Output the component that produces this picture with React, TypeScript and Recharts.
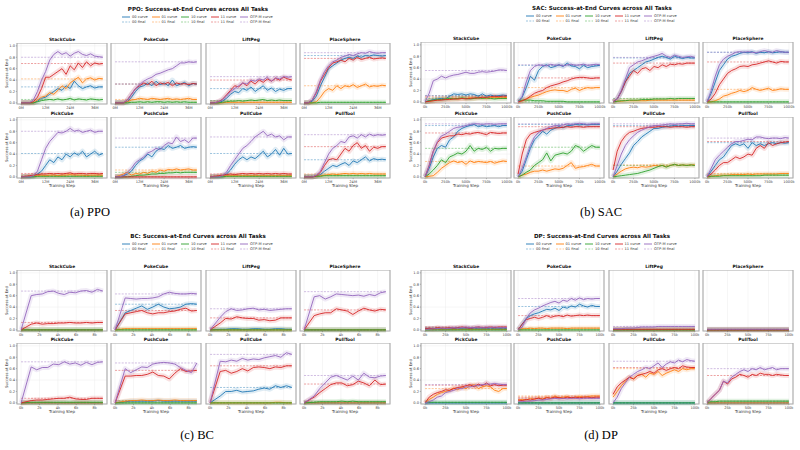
import { CartesianGrid, Line, LineChart, ReferenceArea, ReferenceLine, XAxis, YAxis } from "recharts";

// series order: 00, 01, 10, 11, OTP-M
const SERIES = ["00", "01", "10", "11", "OTP-M"];
const COLORS = ["#1f77b4", "#ff7f0e", "#2ca02c", "#d62728", "#9467bd"];
const TASKS = ["StackCube", "PokeCube", "LiftPeg", "PlaceSphere", "PickCube", "PushCube", "PullCube", "PullTool"];
const Y_TICKS = [0, 0.2, 0.4, 0.6, 0.8, 1.0];

// ---- PPO (steps in M) ----
const PPO_STEPS = [0, 2, 4, 6, 8, 10, 12, 14, 16, 18, 20, 22, 24, 26, 28, 30, 32, 34, 36, 38, 40];
const PPO_TICKS = [0, 12, 24, 36];
const PPO_STACKCUBE = [
  [0, 0, 0, 0, 0.03, 0.08, 0.1, 0.15, 0.2, 0.25, 0.22, 0.3, 0.25, 0.38, 0.3, 0.25, 0.28, 0.3, 0.26, 0.28, 0.28],
  [0, 0, 0, 0, 0.05, 0.1, 0.12, 0.18, 0.15, 0.22, 0.3, 0.25, 0.35, 0.4, 0.45, 0.35, 0.42, 0.44, 0.4, 0.43, 0.42],
  [0, 0, 0, 0, 0.02, 0.04, 0.05, 0.06, 0.05, 0.07, 0.05, 0.06, 0.08, 0.05, 0.07, 0.06, 0.05, 0.07, 0.06, 0.05, 0.06],
  [0, 0, 0, 0.02, 0.1, 0.25, 0.45, 0.45, 0.5, 0.55, 0.6, 0.5, 0.65, 0.58, 0.7, 0.62, 0.72, 0.65, 0.7, 0.68, 0.69],
  [0, 0, 0, 0.05, 0.2, 0.4, 0.55, 0.75, 0.85, 0.9, 0.85, 0.88, 0.82, 0.87, 0.9, 0.85, 0.83, 0.86, 0.82, 0.81, 0.8],
];
const PPO_POKECUBE = [
  [0, 0, 0, 0.02, 0.1, 0.2, 0.28, 0.3, 0.35, 0.3, 0.38, 0.32, 0.35, 0.3, 0.4, 0.3, 0.33, 0.36, 0.3, 0.34, 0.33],
  [0, 0, 0, 0.02, 0.05, 0.06, 0.08, 0.07, 0.06, 0.08, 0.07, 0.06, 0.07, 0.08, 0.06, 0.07, 0.06, 0.07, 0.08, 0.06, 0.06],
  [0, 0, 0, 0, 0.01, 0.01, 0.02, 0.01, 0.02, 0.01, 0.02, 0.02, 0.01, 0.02, 0.01, 0.02, 0.01, 0.02, 0.01, 0.01, 0.01],
  [0, 0, 0, 0.05, 0.15, 0.25, 0.3, 0.35, 0.32, 0.38, 0.3, 0.35, 0.33, 0.36, 0.3, 0.35, 0.33, 0.34, 0.32, 0.34, 0.33],
  [0, 0, 0, 0.05, 0.15, 0.25, 0.32, 0.38, 0.42, 0.45, 0.5, 0.52, 0.55, 0.58, 0.6, 0.65, 0.7, 0.7, 0.72, 0.71, 0.72],
];
const PPO_LIFTPEG = [
  [0, 0, 0, 0.03, 0.08, 0.15, 0.2, 0.18, 0.25, 0.22, 0.28, 0.2, 0.25, 0.3, 0.22, 0.26, 0.2, 0.24, 0.22, 0.25, 0.25],
  [0, 0, 0, 0, 0.01, 0.01, 0.01, 0.01, 0.01, 0.01, 0.01, 0.01, 0.01, 0.01, 0.01, 0.01, 0.01, 0.01, 0.01, 0.01, 0.01],
  [0, 0, 0, 0.01, 0.02, 0.03, 0.03, 0.04, 0.03, 0.04, 0.05, 0.04, 0.05, 0.06, 0.04, 0.05, 0.04, 0.05, 0.04, 0.04, 0.04],
  [0, 0, 0.02, 0.06, 0.14, 0.22, 0.3, 0.28, 0.35, 0.3, 0.38, 0.33, 0.4, 0.36, 0.42, 0.38, 0.43, 0.4, 0.45, 0.42, 0.4],
  [0, 0, 0.02, 0.05, 0.12, 0.2, 0.25, 0.3, 0.35, 0.33, 0.4, 0.38, 0.42, 0.4, 0.45, 0.38, 0.44, 0.42, 0.46, 0.45, 0.46],
];
const PPO_PLACESPHERE = [
  [0, 0, 0.03, 0.12, 0.3, 0.45, 0.6, 0.65, 0.7, 0.75, 0.78, 0.8, 0.78, 0.82, 0.8, 0.83, 0.82, 0.84, 0.83, 0.82, 0.83],
  [0, 0, 0, 0.02, 0.1, 0.2, 0.25, 0.22, 0.3, 0.25, 0.3, 0.28, 0.32, 0.27, 0.3, 0.33, 0.28, 0.3, 0.29, 0.31, 0.3],
  [0, 0, 0, 0, 0.01, 0.01, 0.01, 0.01, 0.01, 0.01, 0.01, 0.01, 0.01, 0.01, 0.01, 0.01, 0.01, 0.01, 0.01, 0.01, 0.01],
  [0, 0, 0.05, 0.18, 0.38, 0.5, 0.62, 0.7, 0.72, 0.75, 0.72, 0.78, 0.75, 0.8, 0.76, 0.78, 0.8, 0.77, 0.78, 0.79, 0.78],
  [0, 0, 0.05, 0.2, 0.4, 0.55, 0.65, 0.72, 0.75, 0.8, 0.82, 0.85, 0.83, 0.86, 0.88, 0.87, 0.9, 0.88, 0.87, 0.88, 0.88],
];
const PPO_PICKCUBE = [
  [0, 0, 0, 0.01, 0.05, 0.1, 0.2, 0.3, 0.25, 0.35, 0.3, 0.4, 0.35, 0.42, 0.38, 0.45, 0.35, 0.4, 0.45, 0.38, 0.41],
  [0, 0, 0.01, 0.02, 0.02, 0.03, 0.02, 0.03, 0.03, 0.02, 0.03, 0.03, 0.04, 0.03, 0.03, 0.03, 0.02, 0.03, 0.03, 0.03, 0.03],
  [0, 0, 0, 0, 0.01, 0.01, 0.01, 0.01, 0.01, 0.01, 0.01, 0.01, 0.01, 0.01, 0.01, 0.01, 0.01, 0.01, 0.01, 0.01, 0.01],
  [0, 0.01, 0.02, 0.03, 0.04, 0.05, 0.05, 0.06, 0.05, 0.06, 0.05, 0.06, 0.07, 0.05, 0.06, 0.06, 0.05, 0.06, 0.06, 0.05, 0.06],
  [0, 0, 0, 0.02, 0.1, 0.3, 0.5, 0.62, 0.7, 0.78, 0.77, 0.8, 0.85, 0.8, 0.82, 0.78, 0.8, 0.82, 0.78, 0.8, 0.8],
];
const PPO_PUSHCUBE = [
  [0, 0, 0.02, 0.05, 0.1, 0.2, 0.28, 0.32, 0.4, 0.35, 0.45, 0.5, 0.48, 0.55, 0.5, 0.52, 0.55, 0.5, 0.52, 0.53, 0.52],
  [0, 0.02, 0.05, 0.08, 0.03, 0.06, 0.05, 0.08, 0.06, 0.1, 0.08, 0.12, 0.1, 0.13, 0.12, 0.14, 0.12, 0.13, 0.14, 0.12, 0.12],
  [0, 0, 0, 0, 0.01, 0.02, 0.03, 0.03, 0.04, 0.05, 0.05, 0.06, 0.06, 0.07, 0.07, 0.08, 0.07, 0.08, 0.08, 0.08, 0.08],
  [0, 0, 0, 0, 0, 0, 0, 0, 0, 0, 0, 0, 0, 0, 0, 0, 0, 0, 0, 0, 0],
  [0, 0, 0.02, 0.08, 0.15, 0.25, 0.3, 0.35, 0.42, 0.45, 0.5, 0.48, 0.55, 0.6, 0.58, 0.7, 0.62, 0.65, 0.6, 0.68, 0.68],
];
const PPO_PULLCUBE = [
  [0, 0, 0, 0.01, 0.05, 0.12, 0.22, 0.3, 0.35, 0.3, 0.35, 0.32, 0.38, 0.45, 0.35, 0.4, 0.48, 0.38, 0.5, 0.4, 0.41],
  [0, 0, 0.01, 0.02, 0.02, 0.02, 0.02, 0.02, 0.02, 0.02, 0.02, 0.02, 0.02, 0.02, 0.02, 0.02, 0.02, 0.02, 0.02, 0.02, 0.02],
  [0, 0, 0, 0, 0.01, 0.01, 0.01, 0.01, 0.01, 0.01, 0.01, 0.01, 0.01, 0.01, 0.01, 0.01, 0.01, 0.01, 0.01, 0.01, 0.01],
  [0, 0.01, 0.02, 0.03, 0.04, 0.05, 0.04, 0.05, 0.06, 0.05, 0.06, 0.05, 0.06, 0.05, 0.06, 0.05, 0.06, 0.05, 0.06, 0.05, 0.05],
  [0, 0, 0, 0.02, 0.08, 0.2, 0.3, 0.4, 0.5, 0.55, 0.62, 0.7, 0.75, 0.8, 0.72, 0.75, 0.7, 0.72, 0.65, 0.7, 0.7],
];
const PPO_PULLTOOL = [
  [0, 0, 0, 0.01, 0.04, 0.1, 0.15, 0.2, 0.18, 0.22, 0.25, 0.2, 0.28, 0.25, 0.3, 0.35, 0.28, 0.32, 0.3, 0.31, 0.3],
  [0, 0, 0, 0.01, 0.02, 0.03, 0.04, 0.05, 0.04, 0.05, 0.06, 0.05, 0.06, 0.05, 0.06, 0.05, 0.06, 0.05, 0.05, 0.05, 0.05],
  [0, 0, 0, 0.01, 0.01, 0.02, 0.02, 0.02, 0.02, 0.02, 0.02, 0.02, 0.02, 0.02, 0.02, 0.02, 0.02, 0.02, 0.02, 0.02, 0.02],
  [0, 0, 0, 0.02, 0.08, 0.2, 0.3, 0.32, 0.3, 0.4, 0.5, 0.45, 0.55, 0.6, 0.5, 0.55, 0.45, 0.52, 0.5, 0.53, 0.53],
  [0, 0, 0, 0.03, 0.1, 0.25, 0.4, 0.5, 0.55, 0.62, 0.6, 0.7, 0.72, 0.68, 0.74, 0.7, 0.75, 0.72, 0.74, 0.73, 0.74],
];

// ---- SAC (steps in k) ----
const SAC_STEPS = [0, 50, 100, 150, 200, 250, 300, 350, 400, 450, 500, 550, 600, 650, 700, 750, 800, 850, 900, 950, 1000];
const SAC_TICKS = [0, 250, 500, 750, 1000];
const SAC_STACKCUBE = [
  [0, 0.02, 0.04, 0.05, 0.06, 0.05, 0.1, 0.14, 0.13, 0.14, 0.12, 0.14, 0.13, 0.1, 0.14, 0.1, 0.12, 0.1, 0.11, 0.12, 0.11],
  [0, 0.01, 0.02, 0.03, 0.04, 0.05, 0.05, 0.06, 0.05, 0.06, 0.06, 0.07, 0.06, 0.07, 0.07, 0.06, 0.07, 0.08, 0.07, 0.07, 0.08],
  [0, 0.02, 0.03, 0.04, 0.04, 0.05, 0.06, 0.05, 0.06, 0.07, 0.06, 0.05, 0.06, 0.07, 0.06, 0.07, 0.06, 0.05, 0.06, 0.06, 0.06],
  [0, 0.01, 0.02, 0.03, 0.03, 0.04, 0.04, 0.05, 0.05, 0.06, 0.05, 0.06, 0.07, 0.07, 0.08, 0.08, 0.09, 0.1, 0.09, 0.1, 0.1],
  [0, 0.15, 0.37, 0.4, 0.45, 0.42, 0.45, 0.47, 0.48, 0.5, 0.52, 0.5, 0.5, 0.52, 0.53, 0.52, 0.53, 0.54, 0.56, 0.56, 0.55],
];
const SAC_POKECUBE = [
  [0, 0.08, 0.25, 0.45, 0.38, 0.55, 0.62, 0.65, 0.6, 0.62, 0.65, 0.62, 0.68, 0.63, 0.62, 0.58, 0.64, 0.6, 0.62, 0.63, 0.64],
  [0, 0.02, 0.05, 0.08, 0.1, 0.12, 0.15, 0.18, 0.2, 0.21, 0.2, 0.2, 0.18, 0.22, 0.24, 0.2, 0.23, 0.25, 0.24, 0.25, 0.25],
  [0.02, 0.03, 0.03, 0.03, 0.02, 0.02, 0.02, 0.01, 0.01, 0.01, 0.01, 0.01, 0, 0, 0, 0, 0, 0, 0, 0, 0],
  [0, 0.02, 0.05, 0.1, 0.15, 0.18, 0.2, 0.25, 0.28, 0.3, 0.32, 0.35, 0.37, 0.4, 0.42, 0.43, 0.43, 0.42, 0.41, 0.42, 0.42],
  [0, 0.1, 0.35, 0.55, 0.62, 0.65, 0.64, 0.63, 0.66, 0.64, 0.65, 0.63, 0.65, 0.66, 0.64, 0.65, 0.66, 0.64, 0.65, 0.66, 0.65],
];
const SAC_LIFTPEG = [
  [0, 0.05, 0.18, 0.35, 0.5, 0.55, 0.6, 0.65, 0.7, 0.72, 0.75, 0.78, 0.8, 0.78, 0.75, 0.8, 0.78, 0.76, 0.78, 0.77, 0.77],
  [0, 0.01, 0.01, 0.02, 0.02, 0.02, 0.02, 0.02, 0.02, 0.03, 0.03, 0.03, 0.03, 0.03, 0.03, 0.03, 0.03, 0.03, 0.03, 0.03, 0.03],
  [0, 0.01, 0.02, 0.02, 0.03, 0.03, 0.03, 0.04, 0.04, 0.04, 0.05, 0.05, 0.05, 0.05, 0.06, 0.05, 0.06, 0.06, 0.06, 0.06, 0.06],
  [0, 0.05, 0.18, 0.35, 0.45, 0.55, 0.5, 0.58, 0.6, 0.55, 0.62, 0.6, 0.65, 0.62, 0.66, 0.65, 0.67, 0.66, 0.68, 0.68, 0.68],
  [0, 0.05, 0.2, 0.4, 0.6, 0.65, 0.7, 0.72, 0.75, 0.78, 0.8, 0.82, 0.85, 0.8, 0.78, 0.82, 0.8, 0.78, 0.79, 0.8, 0.78],
];
const SAC_PLACESPHERE = [
  [0, 0.15, 0.35, 0.55, 0.65, 0.75, 0.8, 0.82, 0.85, 0.87, 0.86, 0.88, 0.85, 0.87, 0.86, 0.88, 0.86, 0.87, 0.88, 0.87, 0.87],
  [0, 0, 0.02, 0.05, 0.1, 0.12, 0.15, 0.17, 0.2, 0.18, 0.2, 0.25, 0.22, 0.2, 0.22, 0.24, 0.2, 0.21, 0.23, 0.22, 0.22],
  [0, 0, 0, 0, 0, 0, 0, 0, 0, 0, 0, 0, 0, 0, 0, 0, 0, 0, 0, 0, 0],
  [0, 0.05, 0.15, 0.3, 0.4, 0.5, 0.55, 0.58, 0.62, 0.63, 0.62, 0.65, 0.66, 0.68, 0.7, 0.72, 0.7, 0.68, 0.71, 0.7, 0.7],
  [0, 0.2, 0.45, 0.65, 0.75, 0.8, 0.83, 0.87, 0.88, 0.87, 0.88, 0.87, 0.86, 0.88, 0.9, 0.88, 0.87, 0.9, 0.88, 0.87, 0.87],
];
const SAC_PICKCUBE = [
  [0, 0.15, 0.35, 0.5, 0.55, 0.52, 0.65, 0.7, 0.8, 0.85, 0.88, 0.9, 0.92, 0.88, 0.9, 0.88, 0.89, 0.9, 0.88, 0.9, 0.9],
  [0, 0.01, 0.02, 0.08, 0.15, 0.2, 0.25, 0.28, 0.25, 0.27, 0.22, 0.28, 0.25, 0.27, 0.26, 0.25, 0.27, 0.24, 0.26, 0.28, 0.27],
  [0, 0.05, 0.12, 0.2, 0.3, 0.25, 0.35, 0.38, 0.42, 0.4, 0.45, 0.55, 0.45, 0.5, 0.48, 0.52, 0.45, 0.5, 0.49, 0.5, 0.5],
  [0, 0.2, 0.45, 0.6, 0.68, 0.7, 0.72, 0.72, 0.75, 0.74, 0.76, 0.75, 0.77, 0.78, 0.76, 0.74, 0.78, 0.77, 0.76, 0.77, 0.77],
  [0, 0.2, 0.45, 0.62, 0.72, 0.75, 0.8, 0.85, 0.87, 0.88, 0.9, 0.92, 0.93, 0.93, 0.92, 0.93, 0.93, 0.92, 0.93, 0.93, 0.93],
];
const SAC_PUSHCUBE = [
  [0, 0.1, 0.3, 0.5, 0.65, 0.72, 0.8, 0.75, 0.82, 0.85, 0.88, 0.86, 0.9, 0.9, 0.92, 0.91, 0.92, 0.91, 0.92, 0.92, 0.92],
  [0, 0.03, 0.05, 0.08, 0.1, 0.1, 0.12, 0.1, 0.12, 0.14, 0.13, 0.15, 0.2, 0.25, 0.15, 0.17, 0.18, 0.2, 0.22, 0.19, 0.19],
  [0, 0.03, 0.08, 0.12, 0.2, 0.25, 0.3, 0.42, 0.28, 0.38, 0.4, 0.42, 0.4, 0.45, 0.55, 0.52, 0.45, 0.5, 0.55, 0.52, 0.52],
  [0.05, 0.4, 0.65, 0.75, 0.78, 0.8, 0.82, 0.84, 0.85, 0.86, 0.86, 0.87, 0.88, 0.87, 0.88, 0.88, 0.87, 0.88, 0.88, 0.88, 0.88],
  [0, 0.15, 0.35, 0.55, 0.7, 0.78, 0.82, 0.85, 0.88, 0.9, 0.9, 0.91, 0.93, 0.92, 0.93, 0.94, 0.93, 0.92, 0.93, 0.93, 0.93],
];
const SAC_PULLCUBE = [
  [0, 0.1, 0.22, 0.32, 0.42, 0.55, 0.62, 0.7, 0.75, 0.8, 0.85, 0.85, 0.87, 0.88, 0.89, 0.9, 0.89, 0.9, 0.9, 0.9, 0.9],
  [0, 0.05, 0.1, 0.14, 0.16, 0.17, 0.16, 0.18, 0.17, 0.18, 0.2, 0.19, 0.2, 0.18, 0.2, 0.22, 0.2, 0.21, 0.2, 0.21, 0.21],
  [0, 0.01, 0.02, 0.03, 0.04, 0.05, 0.06, 0.08, 0.1, 0.12, 0.15, 0.18, 0.2, 0.17, 0.2, 0.22, 0.2, 0.21, 0.2, 0.21, 0.2],
  [0.12, 0.45, 0.62, 0.72, 0.78, 0.8, 0.83, 0.85, 0.86, 0.87, 0.87, 0.88, 0.88, 0.88, 0.87, 0.88, 0.88, 0.88, 0.87, 0.88, 0.88],
  [0, 0.2, 0.4, 0.55, 0.65, 0.72, 0.78, 0.82, 0.85, 0.88, 0.9, 0.9, 0.91, 0.92, 0.93, 0.92, 0.93, 0.93, 0.94, 0.93, 0.93],
];
const SAC_PULLTOOL = [
  [0, 0.1, 0.2, 0.3, 0.35, 0.45, 0.55, 0.58, 0.55, 0.58, 0.5, 0.6, 0.55, 0.58, 0.55, 0.58, 0.6, 0.58, 0.6, 0.59, 0.6],
  [0, 0.01, 0.02, 0.03, 0.03, 0.03, 0.04, 0.04, 0.04, 0.04, 0.05, 0.04, 0.05, 0.05, 0.05, 0.05, 0.05, 0.05, 0.06, 0.06, 0.06],
  [0, 0.01, 0.01, 0.01, 0.02, 0.02, 0.02, 0.02, 0.02, 0.02, 0.02, 0.02, 0.02, 0.02, 0.03, 0.03, 0.03, 0.03, 0.03, 0.03, 0.03],
  [0, 0.05, 0.12, 0.2, 0.25, 0.25, 0.3, 0.35, 0.32, 0.35, 0.4, 0.38, 0.5, 0.55, 0.5, 0.6, 0.55, 0.58, 0.6, 0.61, 0.62],
  [0, 0.15, 0.3, 0.38, 0.45, 0.52, 0.58, 0.62, 0.62, 0.64, 0.66, 0.65, 0.7, 0.7, 0.68, 0.67, 0.68, 0.68, 0.67, 0.69, 0.68],
];

// ---- BC (steps in k) ----
const BC_STEPS = [0, 1.1, 1.7, 2.3, 2.9, 3.5, 4.1, 4.7, 5.3, 5.9, 6.5, 7.1, 7.7, 8.3, 8.9];
const BC_TICKS = [0, 2, 4, 6, 8];
const BC_STACKCUBE = [
  [0, 0, 0, 0, 0, 0, 0, 0, 0, 0, 0, 0, 0, 0, 0],
  [0, 0, 0, 0, 0, 0, 0, 0, 0, 0, 0, 0, 0, 0, 0],
  [0, 0, 0, 0, 0, 0, 0, 0, 0, 0, 0, 0, 0, 0, 0],
  [0, 0.1, 0.12, 0.1, 0.11, 0.11, 0.12, 0.12, 0.13, 0.12, 0.12, 0.13, 0.12, 0.13, 0.13],
  [0, 0.6, 0.62, 0.63, 0.67, 0.68, 0.64, 0.62, 0.66, 0.65, 0.68, 0.69, 0.66, 0.71, 0.68],
];
const BC_POKECUBE = [
  [0, 0.3, 0.34, 0.38, 0.42, 0.36, 0.4, 0.45, 0.4, 0.37, 0.38, 0.4, 0.45, 0.46, 0.45],
  [0, 0.02, 0.02, 0.02, 0.02, 0.02, 0.02, 0.02, 0.02, 0.02, 0.02, 0.02, 0.02, 0.02, 0.02],
  [0, 0, 0, 0, 0, 0, 0, 0, 0, 0, 0, 0, 0, 0, 0],
  [0, 0.28, 0.3, 0.32, 0.34, 0.3, 0.28, 0.3, 0.3, 0.32, 0.33, 0.36, 0.38, 0.33, 0.34],
  [0, 0.56, 0.55, 0.54, 0.55, 0.55, 0.56, 0.58, 0.63, 0.66, 0.64, 0.63, 0.63, 0.64, 0.63],
];
const BC_LIFTPEG = [
  [0, 0.01, 0.01, 0.02, 0.02, 0.01, 0.01, 0.02, 0.02, 0.01, 0.01, 0.02, 0.02, 0.01, 0.01],
  [0, 0, 0, 0, 0, 0, 0, 0, 0, 0, 0, 0, 0, 0, 0],
  [0, 0, 0, 0, 0, 0, 0, 0, 0, 0, 0, 0, 0, 0, 0],
  [0, 0.12, 0.2, 0.19, 0.23, 0.21, 0.2, 0.2, 0.17, 0.18, 0.16, 0.17, 0.21, 0.21, 0.21],
  [0, 0.22, 0.32, 0.37, 0.34, 0.35, 0.37, 0.38, 0.35, 0.36, 0.34, 0.35, 0.36, 0.37, 0.37],
];
const BC_PLACESPHERE = [
  [0, 0, 0, 0, 0, 0, 0, 0, 0, 0, 0, 0, 0, 0, 0],
  [0, 0, 0, 0, 0, 0, 0, 0, 0, 0, 0, 0, 0, 0, 0],
  [0, 0, 0, 0, 0, 0, 0, 0, 0, 0, 0, 0, 0, 0, 0],
  [0, 0.25, 0.28, 0.3, 0.3, 0.37, 0.35, 0.33, 0.27, 0.33, 0.38, 0.35, 0.33, 0.36, 0.35],
  [0, 0.58, 0.6, 0.54, 0.58, 0.63, 0.62, 0.61, 0.6, 0.61, 0.59, 0.62, 0.6, 0.65, 0.67],
];
const BC_PICKCUBE = [
  [0, 0, 0, 0, 0, 0, 0, 0, 0, 0, 0, 0, 0, 0, 0],
  [0, 0, 0, 0, 0, 0, 0, 0, 0, 0, 0, 0, 0, 0, 0],
  [0, 0.01, 0.01, 0.01, 0.01, 0.01, 0.01, 0.01, 0.01, 0.01, 0.01, 0.01, 0.01, 0.01, 0.01],
  [0, 0.04, 0.05, 0.05, 0.06, 0.07, 0.08, 0.08, 0.1, 0.07, 0.06, 0.06, 0.08, 0.08, 0.08],
  [0, 0.63, 0.58, 0.62, 0.62, 0.68, 0.67, 0.72, 0.68, 0.7, 0.66, 0.71, 0.67, 0.71, 0.72],
];
const BC_PUSHCUBE = [
  [0, 0.02, 0.03, 0.03, 0.03, 0.03, 0.03, 0.04, 0.03, 0.03, 0.03, 0.03, 0.03, 0.03, 0.03],
  [0, 0.03, 0.04, 0.04, 0.05, 0.04, 0.04, 0.05, 0.04, 0.04, 0.05, 0.04, 0.04, 0.04, 0.04],
  [0, 0, 0, 0, 0, 0, 0, 0, 0, 0, 0, 0, 0, 0, 0],
  [0, 0.47, 0.47, 0.48, 0.48, 0.5, 0.54, 0.48, 0.47, 0.42, 0.52, 0.6, 0.55, 0.56, 0.57],
  [0, 0.6, 0.53, 0.58, 0.63, 0.62, 0.68, 0.7, 0.71, 0.7, 0.68, 0.62, 0.57, 0.53, 0.7],
];
const BC_PULLCUBE = [
  [0, 0.12, 0.2, 0.2, 0.22, 0.19, 0.2, 0.21, 0.24, 0.26, 0.24, 0.3, 0.27, 0.3, 0.27],
  [0, 0, 0, 0, 0, 0, 0, 0, 0, 0, 0, 0.01, 0.01, 0, 0],
  [0, 0, 0, 0, 0, 0, 0, 0, 0, 0, 0, 0, 0, 0, 0],
  [0, 0.55, 0.57, 0.52, 0.55, 0.6, 0.56, 0.62, 0.63, 0.62, 0.6, 0.63, 0.62, 0.65, 0.65],
  [0, 0.73, 0.72, 0.75, 0.73, 0.78, 0.75, 0.77, 0.76, 0.79, 0.81, 0.83, 0.8, 0.88, 0.85],
];
const BC_PULLTOOL = [
  [0, 0, 0, 0, 0, 0, 0, 0, 0, 0, 0, 0, 0, 0, 0],
  [0, 0, 0, 0, 0, 0, 0, 0, 0, 0, 0, 0, 0, 0, 0],
  [0, 0.01, 0.02, 0.02, 0.02, 0.02, 0.03, 0.02, 0.03, 0.02, 0.02, 0.02, 0.02, 0.02, 0.02],
  [0, 0.1, 0.18, 0.25, 0.32, 0.35, 0.35, 0.3, 0.32, 0.38, 0.35, 0.3, 0.4, 0.32, 0.33],
  [0, 0.12, 0.25, 0.35, 0.45, 0.48, 0.44, 0.4, 0.47, 0.4, 0.52, 0.45, 0.44, 0.47, 0.48],
];

// ---- DP (steps in k) ----
const DP_STEPS = [0, 5, 10, 15, 20, 25, 30, 35, 40, 45, 50, 55, 60, 65, 70, 75, 80, 85, 90, 95, 100];
const DP_TICKS = [0, 25, 50, 75, 100];
const DP_STACKCUBE = [
  [0.02, 0.02, 0.02, 0.02, 0.02, 0.02, 0.02, 0.02, 0.03, 0.02, 0.02, 0.02, 0.03, 0.02, 0.02, 0.02, 0.03, 0.02, 0.02, 0.03, 0.02],
  [0.01, 0.01, 0.01, 0.01, 0.01, 0.01, 0.01, 0.01, 0.01, 0.01, 0.01, 0.01, 0.01, 0.01, 0.01, 0.01, 0.01, 0.01, 0.01, 0.01, 0.01],
  [0, 0, 0, 0, 0, 0, 0, 0, 0, 0, 0, 0, 0, 0, 0, 0, 0, 0, 0, 0, 0],
  [0.02, 0.03, 0.02, 0.04, 0.03, 0.03, 0.04, 0.03, 0.04, 0.05, 0.04, 0.03, 0.04, 0.05, 0.04, 0.04, 0.05, 0.04, 0.05, 0.05, 0.05],
  [0.01, 0.01, 0.02, 0.02, 0.03, 0.02, 0.03, 0.04, 0.03, 0.04, 0.05, 0.04, 0.04, 0.05, 0.04, 0.05, 0.04, 0.05, 0.04, 0.04, 0.04],
];
const DP_POKECUBE = [
  [0, 0.1, 0.2, 0.25, 0.28, 0.3, 0.33, 0.36, 0.35, 0.38, 0.34, 0.4, 0.38, 0.42, 0.4, 0.45, 0.42, 0.4, 0.43, 0.41, 0.41],
  [0, 0.02, 0.02, 0.03, 0.02, 0.03, 0.03, 0.02, 0.03, 0.03, 0.03, 0.03, 0.02, 0.03, 0.03, 0.03, 0.03, 0.03, 0.03, 0.03, 0.03],
  [0, 0, 0, 0, 0, 0, 0, 0, 0, 0, 0, 0, 0, 0, 0, 0, 0, 0, 0, 0, 0],
  [0, 0.1, 0.18, 0.2, 0.22, 0.2, 0.22, 0.25, 0.22, 0.24, 0.25, 0.23, 0.26, 0.24, 0.25, 0.26, 0.25, 0.26, 0.25, 0.25, 0.25],
  [0, 0.05, 0.2, 0.3, 0.35, 0.38, 0.42, 0.45, 0.48, 0.5, 0.47, 0.52, 0.5, 0.55, 0.52, 0.56, 0.53, 0.55, 0.54, 0.55, 0.55],
];
const DP_LIFTPEG = [
  [0, 0, 0, 0, 0, 0, 0, 0, 0, 0, 0, 0, 0, 0, 0, 0, 0, 0, 0, 0, 0],
  [0, 0, 0, 0, 0, 0, 0, 0, 0, 0, 0, 0, 0, 0, 0, 0, 0, 0, 0, 0, 0],
  [0, 0, 0, 0, 0, 0, 0, 0, 0, 0, 0, 0, 0, 0, 0, 0, 0, 0, 0, 0, 0],
  [0.01, 0.01, 0.01, 0.01, 0.01, 0.01, 0.01, 0.01, 0.01, 0.01, 0.01, 0.01, 0.01, 0.01, 0.01, 0.01, 0.01, 0.01, 0.01, 0.01, 0.01],
  [0.02, 0.02, 0.02, 0.03, 0.03, 0.03, 0.04, 0.05, 0.05, 0.05, 0.05, 0.06, 0.06, 0.06, 0.06, 0.06, 0.06, 0.06, 0.06, 0.06, 0.06],
];
const DP_PLACESPHERE = [
  [0, 0, 0, 0, 0, 0, 0, 0, 0, 0, 0, 0, 0, 0, 0, 0, 0, 0, 0, 0, 0],
  [0, 0, 0, 0, 0, 0, 0, 0, 0, 0, 0, 0, 0, 0, 0, 0, 0, 0, 0, 0, 0],
  [0, 0, 0, 0, 0, 0, 0, 0, 0, 0, 0, 0, 0, 0, 0, 0, 0, 0, 0, 0, 0],
  [0, 0, 0, 0, 0, 0, 0, 0, 0, 0, 0, 0, 0, 0, 0, 0, 0, 0, 0, 0, 0],
  [0.01, 0.01, 0.01, 0.01, 0.01, 0.01, 0.01, 0.01, 0.01, 0.01, 0.01, 0.01, 0.01, 0.01, 0.01, 0.01, 0.01, 0.01, 0.01, 0.01, 0.01],
];
const DP_PICKCUBE = [
  [0, 0, 0, 0, 0, 0, 0, 0, 0, 0, 0, 0, 0, 0, 0, 0, 0, 0, 0, 0, 0],
  [0, 0.06, 0.1, 0.15, 0.18, 0.2, 0.22, 0.26, 0.23, 0.28, 0.25, 0.3, 0.32, 0.25, 0.28, 0.3, 0.28, 0.22, 0.2, 0.25, 0.25],
  [0.01, 0.01, 0.01, 0.01, 0.01, 0.01, 0.01, 0.01, 0.01, 0.01, 0.01, 0.01, 0.01, 0.01, 0.01, 0.01, 0.01, 0.01, 0.01, 0.01, 0.01],
  [0, 0.1, 0.15, 0.18, 0.2, 0.23, 0.22, 0.25, 0.27, 0.28, 0.3, 0.32, 0.28, 0.33, 0.3, 0.35, 0.3, 0.32, 0.3, 0.31, 0.31],
  [0, 0.02, 0.05, 0.1, 0.12, 0.18, 0.2, 0.22, 0.25, 0.25, 0.28, 0.28, 0.3, 0.3, 0.32, 0.33, 0.33, 0.34, 0.33, 0.32, 0.32],
];
const DP_PUSHCUBE = [
  [0, 0, 0, 0, 0, 0, 0, 0, 0, 0, 0, 0, 0, 0, 0, 0, 0, 0, 0, 0, 0],
  [0.05, 0.06, 0.05, 0.08, 0.06, 0.09, 0.07, 0.1, 0.08, 0.12, 0.09, 0.1, 0.11, 0.09, 0.1, 0.11, 0.1, 0.11, 0.12, 0.12, 0.12],
  [0, 0, 0, 0, 0, 0, 0, 0, 0, 0, 0, 0, 0, 0, 0, 0, 0, 0, 0, 0, 0],
  [0.05, 0.04, 0.06, 0.05, 0.07, 0.08, 0.06, 0.09, 0.08, 0.1, 0.09, 0.08, 0.1, 0.09, 0.1, 0.09, 0.1, 0.1, 0.09, 0.1, 0.1],
  [0.02, 0.02, 0.03, 0.03, 0.04, 0.05, 0.05, 0.06, 0.07, 0.08, 0.07, 0.08, 0.07, 0.08, 0.08, 0.07, 0.08, 0.08, 0.08, 0.08, 0.08],
];
const DP_PULLCUBE = [
  [0, 0, 0, 0, 0, 0, 0, 0, 0, 0, 0, 0, 0, 0, 0, 0, 0, 0, 0, 0, 0],
  [0.1, 0.2, 0.3, 0.38, 0.45, 0.42, 0.48, 0.5, 0.45, 0.52, 0.5, 0.55, 0.48, 0.52, 0.55, 0.58, 0.55, 0.6, 0.58, 0.6, 0.6],
  [0, 0, 0, 0, 0, 0, 0, 0, 0, 0, 0, 0, 0, 0, 0, 0, 0, 0, 0, 0, 0],
  [0.15, 0.28, 0.35, 0.4, 0.45, 0.42, 0.48, 0.5, 0.52, 0.55, 0.52, 0.58, 0.6, 0.57, 0.6, 0.62, 0.6, 0.65, 0.63, 0.62, 0.62],
  [0, 0.1, 0.25, 0.35, 0.45, 0.5, 0.55, 0.58, 0.62, 0.6, 0.65, 0.7, 0.62, 0.68, 0.72, 0.7, 0.75, 0.72, 0.76, 0.74, 0.73],
];
const DP_PULLTOOL = [
  [0, 0, 0, 0, 0, 0, 0, 0, 0, 0, 0, 0, 0, 0, 0, 0, 0, 0, 0, 0, 0],
  [0, 0, 0, 0, 0, 0, 0, 0, 0, 0, 0, 0, 0, 0, 0, 0, 0, 0, 0, 0, 0],
  [0.01, 0.02, 0.02, 0.03, 0.03, 0.03, 0.03, 0.03, 0.03, 0.03, 0.03, 0.03, 0.03, 0.03, 0.03, 0.03, 0.03, 0.03, 0.03, 0.03, 0.03],
  [0, 0.08, 0.15, 0.22, 0.38, 0.33, 0.42, 0.45, 0.5, 0.48, 0.45, 0.5, 0.48, 0.52, 0.5, 0.5, 0.48, 0.5, 0.49, 0.48, 0.48],
  [0, 0.08, 0.15, 0.22, 0.38, 0.35, 0.45, 0.5, 0.55, 0.58, 0.55, 0.6, 0.58, 0.62, 0.58, 0.6, 0.62, 0.58, 0.6, 0.6, 0.6],
];

const FONT = "'DejaVu Sans', sans-serif";
const FRAME_W = 90;
const FRAME_H = 61;
const PAD_L = 12;
const PAD_R = 6;
const PAD_B = 8;

type Curves = number[][];

function Panel(props: {
  title: string;
  steps: number[];
  curves: Curves;
  ticks: number[];
  unit: string;
  x: number;
  y: number;
  showY: boolean;
  showXLabel: boolean;
}) {
  const { title, steps, curves, ticks, unit, x, y, showY, showXLabel } = props;
  const end = steps[steps.length - 1];
  const x0 = -0.05 * end;
  const x1 = 1.05 * end;
  const rows = steps.map((s, i) => {
    const r: Record<string, number> = { x: s };
    curves.forEach((c, k) => (r["c" + k] = c[i]));
    return r;
  });
  const tickStyle = { fontSize: 3.6, fill: "#444", fontFamily: FONT };
  return (
    <>
      <div
        style={{
          position: "absolute",
          left: x,
          top: y - 6,
          width: FRAME_W,
          textAlign: "center",
          fontFamily: FONT,
          fontSize: 4.4,
          fontWeight: "bold",
          lineHeight: "5px",
          color: "#111",
        }}
      >
        {title}
      </div>
      <div style={{ position: "absolute", left: x - PAD_L, top: y }}>
        <LineChart
          width={FRAME_W + PAD_L + PAD_R}
          height={FRAME_H + PAD_B}
          data={rows}
          margin={{ top: 0, right: PAD_R, bottom: 0, left: 0 }}
        >
          <CartesianGrid stroke="#ececec" strokeWidth={0.5} />
          <XAxis
            dataKey="x"
            type="number"
            domain={[x0, x1]}
            ticks={ticks}
            interval={0}
            tickFormatter={(v: number) => `${v}${unit}`}
            tick={tickStyle}
            tickSize={1.2}
            tickMargin={0.8}
            tickLine={{ stroke: "#666", strokeWidth: 0.4 }}
            axisLine={false}
            height={PAD_B}
          />
          <YAxis
            type="number"
            domain={[-0.02, 1.05]}
            ticks={Y_TICKS}
            tickFormatter={(v: number) => v.toFixed(1)}
            tick={showY ? tickStyle : false}
            tickSize={1.2}
            tickMargin={0.8}
            tickLine={{ stroke: "#666", strokeWidth: 0.4 }}
            axisLine={false}
            width={PAD_L}
          />
          {curves.map((c, k) => (
            <ReferenceLine
              key={"f" + k}
              segment={[
                { x: 0, y: c[c.length - 1] },
                { x: end, y: c[c.length - 1] },
              ]}
              stroke={COLORS[k]}
              strokeOpacity={0.55}
              strokeWidth={0.8}
              strokeDasharray="2 1.3"
              ifOverflow="visible"
            />
          ))}
          {curves.map((_, k) => (
            <Line
              key={"b" + k}
              dataKey={"c" + k}
              stroke={COLORS[k]}
              strokeOpacity={0.14}
              strokeWidth={5}
              strokeLinejoin="round"
              dot={false}
              activeDot={false}
              isAnimationActive={false}
            />
          ))}
          {curves.map((_, k) => (
            <Line
              key={"l" + k}
              dataKey={"c" + k}
              stroke={COLORS[k]}
              strokeWidth={0.9}
              dot={false}
              activeDot={false}
              isAnimationActive={false}
            />
          ))}
          <ReferenceArea x1={x0} x2={x1} y1={-0.02} y2={1.05} fill="none" stroke="#aaaaaa" strokeWidth={1.1} ifOverflow="visible" />
        </LineChart>
      </div>
      {showXLabel && (
        <div
          style={{
            position: "absolute",
            left: x,
            top: y + FRAME_H + 5,
            width: FRAME_W,
            textAlign: "center",
            fontFamily: FONT,
            fontSize: 4,
            lineHeight: "5px",
            color: "#333",
          }}
        >
          Training Step
        </div>
      )}
      {showY && (
        <div
          style={{
            position: "absolute",
            left: x - PAD_L - 30 + 1,
            top: y + FRAME_H / 2 - 2.5,
            width: 60,
            textAlign: "center",
            fontFamily: FONT,
            fontSize: 3.8,
            lineHeight: "5px",
            color: "#333",
            transform: "rotate(-90deg)",
          }}
        >
          Success at End
        </div>
      )}
    </>
  );
}

function Legend({ x, y }: { x: number; y: number }) {
  return (
    <>
      {SERIES.map((name, k) => (
        <div key={name} style={{ position: "absolute", left: x + k * 29.5, top: y, fontFamily: FONT, fontSize: 3.6, color: "#333" }}>
          {["curve", "final"].map((kind, r) => (
            <div key={kind} style={{ display: "flex", alignItems: "center", height: 5 }}>
              <svg width={8} height={4} style={{ marginRight: 2 }}>
                <line
                  x1={0}
                  x2={8}
                  y1={2}
                  y2={2}
                  stroke={COLORS[k]}
                  strokeWidth={r === 0 ? 0.9 : 0.8}
                  strokeOpacity={r === 0 ? 1 : 0.55}
                  strokeDasharray={r === 0 ? undefined : "2 1.3"}
                />
              </svg>
              <span>{`${name} ${kind}`}</span>
            </div>
          ))}
        </div>
      ))}
    </>
  );
}

function Block(props: {
  algo: string;
  caption: string;
  captionX: number;
  panels: Curves[];
  steps: number[];
  ticks: number[];
  unit: string;
  xs: number[];
  rowTops: number[];
  titleY: number;
  centerX: number;
  legendX: number;
  legendY: number;
  captionY: number;
}) {
  const { algo, caption, captionX, panels, steps, ticks, unit, xs, rowTops, titleY, centerX, legendX, legendY, captionY } = props;
  return (
    <>
      <div
        style={{
          position: "absolute",
          left: centerX - 150,
          top: titleY - 5,
          width: 300,
          textAlign: "center",
          fontFamily: FONT,
          fontSize: 5.6,
          fontWeight: "bold",
          lineHeight: "10px",
          color: "#111",
        }}
      >
        {algo}: Success-at-End Curves across All Tasks
      </div>
      <Legend x={legendX} y={legendY} />
      {panels.map((curves, i) => (
        <Panel
          key={TASKS[i]}
          title={TASKS[i]}
          steps={steps}
          curves={curves}
          ticks={ticks}
          unit={unit}
          x={xs[i % 4]}
          y={rowTops[Math.floor(i / 4)]}
          showY={i % 4 === 0}
          showXLabel={i >= 4}
        />
      ))}
      <div
        style={{
          position: "absolute",
          left: captionX - 100,
          top: captionY - 8,
          width: 200,
          textAlign: "center",
          fontFamily: "'Liberation Serif', serif",
          fontSize: 12.5,
          lineHeight: "16px",
          color: "#000",
        }}
      >
        {caption}
      </div>
    </>
  );
}

const LEFT_XS = [17, 111, 206, 300];
const RIGHT_XS = [421, 514, 609, 703];

export default function App() {
  return (
    <div style={{ position: "absolute", left: 0, top: 0, width: 800, height: 450, background: "#fff", overflow: "hidden" }}>
      <Block
        algo="PPO"
        caption="(a) PPO"
        captionX={90}
        panels={[PPO_STACKCUBE, PPO_POKECUBE, PPO_LIFTPEG, PPO_PLACESPHERE, PPO_PICKCUBE, PPO_PUSHCUBE, PPO_PULLCUBE, PPO_PULLTOOL]}
        steps={PPO_STEPS}
        ticks={PPO_TICKS}
        unit="M"
        xs={LEFT_XS}
        rowTops={[43, 117]}
        titleY={9}
        centerX={198}
        legendX={122}
        legendY={14.5}
        captionY={212}
      />
      <Block
        algo="SAC"
        caption="(b) SAC"
        captionX={601}
        panels={[SAC_STACKCUBE, SAC_POKECUBE, SAC_LIFTPEG, SAC_PLACESPHERE, SAC_PICKCUBE, SAC_PUSHCUBE, SAC_PULLCUBE, SAC_PULLTOOL]}
        steps={SAC_STEPS}
        ticks={SAC_TICKS}
        unit="k"
        xs={RIGHT_XS}
        rowTops={[42, 117]}
        titleY={8}
        centerX={602}
        legendX={526}
        legendY={13.5}
        captionY={212}
      />
      <Block
        algo="BC"
        caption="(c) BC"
        captionX={197}
        panels={[BC_STACKCUBE, BC_POKECUBE, BC_LIFTPEG, BC_PLACESPHERE, BC_PICKCUBE, BC_PUSHCUBE, BC_PULLCUBE, BC_PULLTOOL]}
        steps={BC_STEPS}
        ticks={BC_TICKS}
        unit="k"
        xs={LEFT_XS}
        rowTops={[270, 343]}
        titleY={236}
        centerX={198}
        legendX={122}
        legendY={241.5}
        captionY={435}
      />
      <Block
        algo="DP"
        caption="(d) DP"
        captionX={601}
        panels={[DP_STACKCUBE, DP_POKECUBE, DP_LIFTPEG, DP_PLACESPHERE, DP_PICKCUBE, DP_PUSHCUBE, DP_PULLCUBE, DP_PULLTOOL]}
        steps={DP_STEPS}
        ticks={DP_TICKS}
        unit="k"
        xs={RIGHT_XS}
        rowTops={[270, 343]}
        titleY={236}
        centerX={602}
        legendX={526}
        legendY={241.5}
        captionY={435}
      />
    </div>
  );
}
